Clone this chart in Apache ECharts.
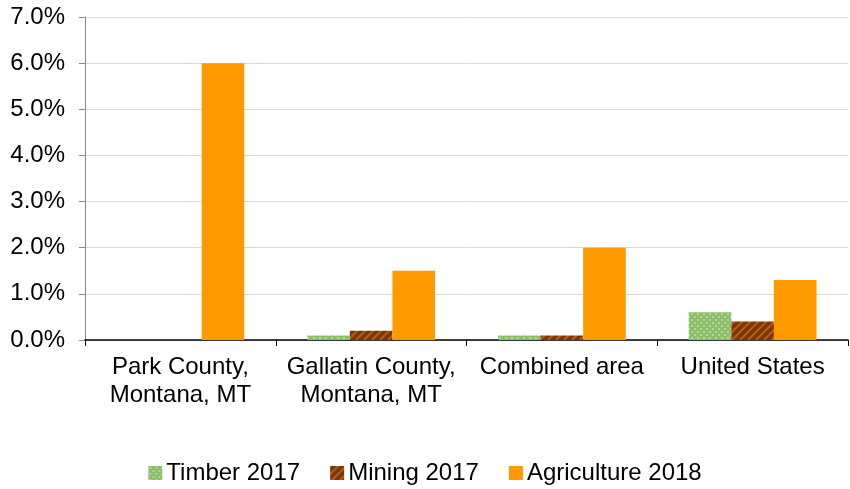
<!DOCTYPE html>
<html><head><meta charset="utf-8">
<script src="https://cdn.jsdelivr.net/npm/echarts@6/dist/echarts.min.js"></script>
<style>html,body{margin:0;padding:0;background:#fff}#c{width:850px;height:489px}</style>
</head><body><div id="c"></div>
<script>
const categories = ['Park County,\nMontana, MT', 'Gallatin County,\nMontana, MT', 'Combined area', 'United States'];
const timber2017 = [0, 0.1, 0.1, 0.6];
const mining2017 = [0, 0.2, 0.1, 0.4];
const agriculture2018 = [6.0, 1.5, 2.0, 1.3];

function dotPattern(){
  const c = document.createElement('canvas'); c.width = 6; c.height = 6;
  const g = c.getContext('2d');
  g.fillStyle = '#8cbf68'; g.fillRect(0,0,6,6);
  g.fillStyle = '#b3d69a'; g.fillRect(1,1,2,2); g.fillRect(4,4,2,2);
  return c;
}
function stripePattern(){
  const c = document.createElement('canvas'); c.width = 8; c.height = 8;
  const g = c.getContext('2d');
  g.fillStyle = '#7a3606'; g.fillRect(0,0,8,8);
  g.strokeStyle = '#b85c14'; g.lineWidth = 2.2;
  g.beginPath();
  g.moveTo(-2,2); g.lineTo(2,-2);
  g.moveTo(-2,10); g.lineTo(10,-2);
  g.moveTo(6,10); g.lineTo(10,6);
  g.stroke();
  return c;
}
const chart = echarts.init(document.getElementById('c'));
const font = 'Liberation Sans, Arial, sans-serif';
chart.setOption({
  animation: false,
  textStyle: {fontFamily: font},
  grid: {left: 85, right: 2, top: 17, bottom: 149, containLabel: false},
  legend: {
    top: 456, left: 'center', itemWidth: 14, itemHeight: 14, itemGap: 30,
    icon: 'rect',
    textStyle: {fontSize: 24, color: '#000', fontFamily: font, padding: [0,0,0,-1]}
  },
  xAxis: {
    type: 'category', data: categories,
    axisLine: {lineStyle: {color: '#000', width: 1.5}},
    axisTick: {show: true, length: 6, lineStyle: {color: '#000'}},
    axisLabel: {fontSize: 24, color: '#000', lineHeight: 28, margin: 13, interval: 0, fontFamily: font}
  },
  yAxis: {
    type: 'value', min: 0, max: 7, interval: 1,
    axisLine: {show: true, lineStyle: {color: '#888'}},
    axisTick: {show: true, length: 6, lineStyle: {color: '#888'}},
    axisLabel: {fontSize: 24, color: '#000', margin: 20, formatter: v => v.toFixed(1) + '%', fontFamily: font},
    splitLine: {lineStyle: {color: '#d9d9d9'}}
  },
  series: [
    {name: 'Timber 2017', type: 'bar', data: timber2017, barGap: '0%', barCategoryGap: '33%',
     itemStyle: {color: {image: dotPattern(), repeat: 'repeat'}}},
    {name: 'Mining 2017', type: 'bar', data: mining2017, barGap: '0%', barCategoryGap: '33%',
     itemStyle: {color: {image: stripePattern(), repeat: 'repeat'}}},
    {name: 'Agriculture 2018', type: 'bar', data: agriculture2018, barGap: '0%', barCategoryGap: '33%',
     itemStyle: {color: '#ff9900'}}
  ]
});
</script></body></html>
